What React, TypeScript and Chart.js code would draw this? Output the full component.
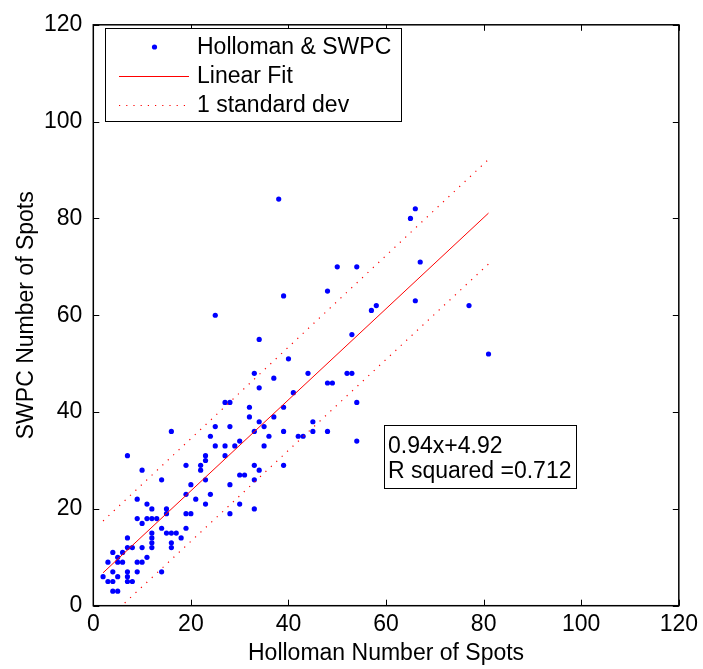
import { useEffect, useRef } from 'react';
import { Chart, registerables } from 'chart.js';

Chart.register(...registerables);

// Holloman (x) vs SWPC (y) sunspot counts
const HOLLOMAN = [
  38, 66, 65, 50, 54, 67, 48, 39, 58, 57, 66, 77, 25, 53, 34, 81, 40, 33, 44, 52,
  53, 37, 48, 49, 34, 41, 54, 27, 28, 32, 39, 32, 37, 34, 45, 25, 28, 35, 16, 33,
  39, 45, 48, 24, 36, 42, 43, 30, 54, 25, 27, 29, 35, 23, 27, 7, 23, 19, 22, 33,
  39, 22, 34, 10, 30, 31, 14, 23, 33, 20, 28, 19, 24, 9, 21, 11, 23, 30, 12, 15,
  33, 15, 19, 20, 28, 9, 11, 12, 13, 10, 14, 19, 12, 15, 16, 17, 7, 12, 18, 12,
  16, 7, 8, 10, 12, 16, 4, 6, 5, 11, 3, 5, 6, 9, 10, 4, 7, 9, 14, 2,
  5, 7, 3, 4, 7, 8, 4, 5,
];
const SWPC = [
  84, 82, 80, 70, 70, 71, 65, 64, 62, 61, 63, 62, 60, 56, 55, 52, 51, 48, 48, 48,
  48, 47, 46, 46, 45, 44, 42, 42, 42, 41, 41, 39, 39, 38, 38, 37, 37, 37, 36, 36,
  36, 36, 36, 35, 35, 35, 35, 34, 34, 33, 33, 33, 33, 31, 31, 31, 30, 29, 29, 29,
  29, 28, 28, 28, 27, 27, 26, 26, 26, 25, 25, 23, 23, 22, 22, 21, 21, 21, 20, 20,
  20, 19, 19, 19, 19, 18, 18, 18, 18, 17, 16, 16, 15, 15, 15, 15, 14, 14, 14, 13,
  13, 12, 12, 12, 12, 12, 11, 11, 10, 10, 9, 9, 9, 9, 9, 7, 7, 7, 7, 6,
  6, 6, 5, 5, 5, 5, 3, 3,
];

// Fit line and ±1 standard deviation lines (end points)
const FIT_X = [2, 81];
const FIT_Y = [6.8, 81.1];
const UPPER_Y = [17.5, 92.2];
const LOWER_Y = [-3.6, 70.6];

const TICKS = [0, 20, 40, 60, 80, 100, 120];
const LEGEND_LABELS = ['Holloman & SWPC', 'Linear Fit', '1 standard dev'];
const FIT_TEXT = ['0.94x+4.92', 'R squared =0.712'];
const X_TITLE = 'Holloman Number of Spots';
const Y_TITLE = 'SWPC Number of Spots';

const FONT = '"Liberation Sans", Arial, Helvetica, sans-serif';
const FS = 23;

const decorPlugin = {
  id: 'decor',
  afterDraw(chart: any) {
    const ctx = chart.ctx;
    const { left, right, top, bottom } = chart.chartArea;
    const xs = chart.scales.x;
    const ys = chart.scales.y;
    ctx.save();
    // frame
    ctx.strokeStyle = '#000';
    ctx.lineWidth = 1.5;
    ctx.strokeRect(left, top, right - left, bottom - top);
    // inward ticks
    ctx.lineWidth = 1;
    ctx.beginPath();
    const tl = 6;
    TICKS.forEach((v) => {
      const px = Math.round(xs.getPixelForValue(v)) + 0.5;
      ctx.moveTo(px, bottom);
      ctx.lineTo(px, bottom - tl);
      ctx.moveTo(px, top);
      ctx.lineTo(px, top + tl);
      const py = Math.round(ys.getPixelForValue(v)) + 0.5;
      ctx.moveTo(left, py);
      ctx.lineTo(left + tl, py);
      ctx.moveTo(right, py);
      ctx.lineTo(right - tl, py);
    });
    ctx.stroke();

    // axis titles
    ctx.fillStyle = '#000';
    ctx.font = `${FS}px ${FONT}`;
    ctx.textAlign = 'center';
    ctx.textBaseline = 'middle';
    ctx.fillText(X_TITLE, (left + right) / 2, 654);
    ctx.save();
    ctx.translate(27, (top + bottom) / 2);
    ctx.rotate(-Math.PI / 2);
    ctx.fillText(Y_TITLE, 0, 0);
    ctx.restore();

    // legend box
    const lx = 105.5, ly = 28.5, lw = 296, lh = 93;
    ctx.fillStyle = '#fff';
    ctx.fillRect(lx, ly, lw, lh);
    ctx.strokeStyle = '#000';
    ctx.lineWidth = 1;
    ctx.strokeRect(lx, ly, lw, lh);
    const rows = [47, 76, 105];
    ctx.fillStyle = '#0000ff';
    ctx.beginPath();
    ctx.arc(154.5, rows[0], 2.6, 0, Math.PI * 2);
    ctx.fill();
    ctx.strokeStyle = '#ff0000';
    ctx.lineWidth = 1;
    ctx.beginPath();
    ctx.moveTo(119, rows[1] + 0.5);
    ctx.lineTo(189, rows[1] + 0.5);
    ctx.stroke();
    ctx.setLineDash([1.2, 6]);
    ctx.beginPath();
    ctx.moveTo(119, rows[2] + 0.5);
    ctx.lineTo(190, rows[2] + 0.5);
    ctx.stroke();
    ctx.setLineDash([]);
    ctx.fillStyle = '#000';
    ctx.textAlign = 'left';
    ctx.textBaseline = 'middle';
    LEGEND_LABELS.forEach((t, i) => ctx.fillText(t, 197, rows[i] + 1));

    // fit text box
    const bx = 384.5, by = 425.5, bw = 192, bh = 63;
    ctx.fillStyle = '#fff';
    ctx.fillRect(bx, by, bw, bh);
    ctx.strokeStyle = '#000';
    ctx.strokeRect(bx, by, bw, bh);
    ctx.fillStyle = '#000';
    ctx.fillText(FIT_TEXT[0], 388, 447);
    ctx.fillText(FIT_TEXT[1], 388, 472);
    ctx.restore();
  },
};

export default function App() {
  const ref = useRef<HTMLCanvasElement | null>(null);
  useEffect(() => {
    document.body.style.margin = '0';
    const canvas = ref.current!;
    const pts = HOLLOMAN.map((x, i) => ({ x, y: SWPC[i] }));
    const line = (ys: number[]) => FIT_X.map((x, i) => ({ x, y: ys[i] }));
    const chart = new Chart(canvas, {
      type: 'scatter',
      data: {
        datasets: [
          {
            label: LEGEND_LABELS[1],
            data: line(FIT_Y),
            showLine: true,
            borderColor: '#ff0000',
            borderWidth: 1,
            pointRadius: 0,
            order: 0,
          },
          {
            label: LEGEND_LABELS[2],
            data: line(UPPER_Y),
            showLine: true,
            borderColor: '#ff0000',
            borderWidth: 1.2,
            borderDash: [1.2, 6.2],
            pointRadius: 0,
            order: 0,
          },
          {
            label: LEGEND_LABELS[2] + ' (low)',
            data: line(LOWER_Y),
            showLine: true,
            borderColor: '#ff0000',
            borderWidth: 1.2,
            borderDash: [1.2, 6.2],
            pointRadius: 0,
            order: 0,
          },
          {
            label: LEGEND_LABELS[0],
            data: pts,
            backgroundColor: '#0000ff',
            borderWidth: 0,
            pointRadius: 2.6,
            order: 1,
          },
        ],
      },
      options: {
        responsive: false,
        animation: false,
        events: [],
        layout: { padding: { left: 0, top: 17.7, right: 19.3, bottom: 0 } },
        plugins: { legend: { display: false }, tooltip: { enabled: false } },
        scales: {
          x: {
            type: 'linear',
            min: 0,
            max: 120,
            afterFit: (s: any) => { s.height = 63.3; },
            afterBuildTicks: (s: any) => { s.ticks = TICKS.map((v) => ({ value: v })); },
            grid: { display: false, drawTicks: false },
            border: { display: false },
            ticks: { color: '#000', font: { family: FONT, size: FS }, padding: 5, maxRotation: 0 },
          },
          y: {
            type: 'linear',
            min: 0,
            max: 120,
            afterFit: (s: any) => { s.width = 93.3; },
            afterBuildTicks: (s: any) => { s.ticks = TICKS.map((v) => ({ value: v })); },
            grid: { display: false, drawTicks: false },
            border: { display: false },
            ticks: { color: '#000', font: { family: FONT, size: FS }, padding: 11 },
          },
        },
      },
      plugins: [decorPlugin],
    });
    return () => chart.destroy();
  }, []);
  return <canvas ref={ref} width={703} height={669} style={{ display: 'block' }} />;
}
